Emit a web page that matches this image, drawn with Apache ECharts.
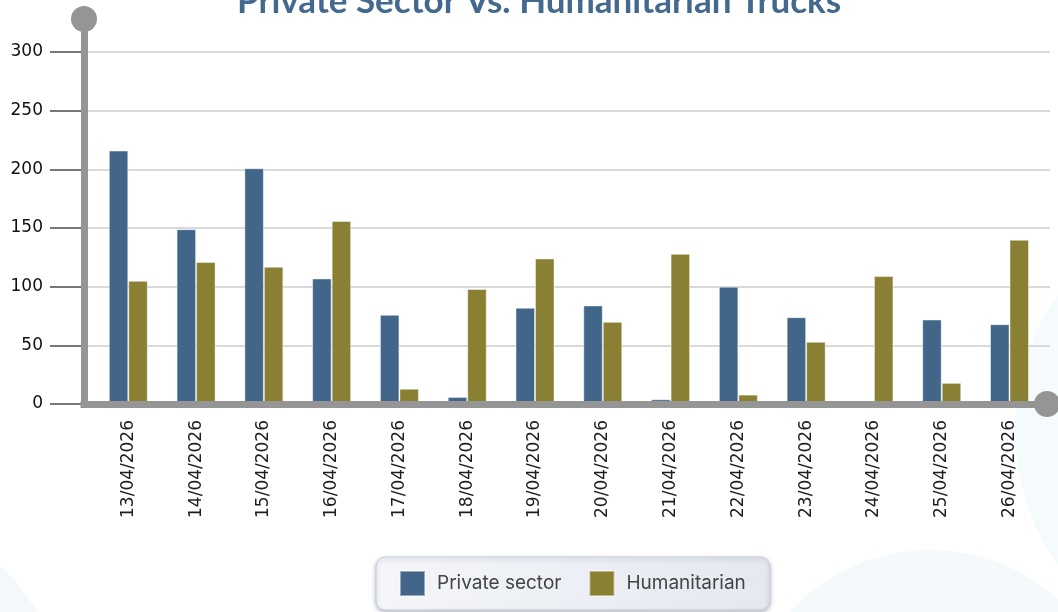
<!DOCTYPE html>
<html>
<head>
<meta charset="utf-8">
<title>Private Sector Vs. Humanitarian Trucks</title>
<script src="https://cdn.jsdelivr.net/npm/echarts@6/dist/echarts.min.js"></script>
<style>
  html, body { margin: 0; padding: 0; background: #ffffff; }
  #chart { width: 1058px; height: 612px; }
</style>
</head>
<body>
<div id="chart"></div>
<script>
// Daily truck counts entering, by type
const categories = [
  '13/04/2026', '14/04/2026', '15/04/2026', '16/04/2026', '17/04/2026',
  '18/04/2026', '19/04/2026', '20/04/2026', '21/04/2026', '22/04/2026',
  '23/04/2026', '24/04/2026', '25/04/2026', '26/04/2026'
];
const privateSector = [216, 149, 201, 107, 76, 6, 82, 84, 4, 100, 74, 0, 72, 68];
const humanitarian  = [105, 121, 117, 156, 13, 98, 124, 70, 128, 8, 53, 109, 18, 140];

// Value axis range and tick step
const yMin = 0;
const yMax = 300;
const yStep = 50;

const seriesNames = ['Private sector', 'Humanitarian'];
const seriesColors = ['#416689', '#8a8033'];

const chart = echarts.init(document.getElementById('chart'), null, { renderer: 'canvas' });

const axisGray = '#959595';
const axisFont = '"DejaVu Sans", sans-serif';
const legendFont = 'Inter, "Noto Sans", sans-serif';

const option = {
  backgroundColor: '#ffffff',
  animation: false,
  title: {
    text: 'Private Sector Vs. Humanitarian Trucks',
    left: 232,
    top: -21,
    textStyle: {
      color: '#44698f',
      fontSize: 35,
      fontWeight: 'bold',
      fontFamily: 'Lato, "Open Sans", sans-serif'
    }
  },
  graphic: [
    { type: 'circle', z: -10, silent: true, shape: { cx: -120, cy: 700, r: 180 }, style: { fill: '#f3f8fc' } },
    { type: 'circle', z: -10, silent: true, shape: { cx: 930, cy: 740, r: 190 }, style: { fill: '#f4f9fc' } },
    { type: 'circle', z: -10, silent: true, shape: { cx: 1250, cy: 430, r: 235 }, style: { fill: '#f5fbfd' } }
  ],
  legend: {
    data: seriesNames,
    left: 376,
    top: 557,
    itemWidth: 25,
    itemHeight: 25,
    itemGap: 27,
    icon: 'rect',
    padding: [13, 24, 13, 23],
    borderRadius: 9,
    borderColor: '#c9cdd8',
    borderWidth: 1,
    backgroundColor: new echarts.graphic.LinearGradient(0, 0, 1, 1, [
      { offset: 0, color: '#f4f6f9' },
      { offset: 1, color: '#e4e8f0' }
    ]),
    shadowColor: 'rgba(60, 70, 100, 0.35)',
    shadowBlur: 4,
    shadowOffsetY: 2,
    textStyle: {
      color: '#444444',
      fontSize: 19,
      fontFamily: legendFont,
      padding: [0, 0, 0, 7]
    }
  },
  grid: [
    // gridlines and value labels
    { left: 88, right: 8, top: 52, bottom: 208 },
    // bars
    { left: 94.4, right: 14.6, top: 52, bottom: 208 },
    // axis frame with round end caps
    { left: 84, right: 11, top: 19, bottom: 208 }
  ],
  xAxis: [
    { gridIndex: 0, type: 'value', min: 0, max: 1, show: false },
    {
      gridIndex: 1,
      type: 'category',
      data: categories,
      axisLine: { show: false },
      axisTick: { show: false },
      axisLabel: {
        interval: 0,
        rotate: 90,
        margin: 16,
        color: '#1e1e1e',
        fontSize: 17,
        fontFamily: axisFont
      }
    },
    {
      gridIndex: 2,
      type: 'value',
      min: 0,
      max: 1,
      z: 5,
      axisLine: {
        show: true,
        symbol: ['none', 'circle'],
        symbolSize: [26, 26],
        lineStyle: { color: axisGray, width: 7, cap: 'square' }
      },
      axisTick: { show: false },
      axisLabel: { show: false },
      splitLine: { show: false }
    }
  ],
  yAxis: [
    {
      gridIndex: 0,
      type: 'value',
      min: yMin,
      max: yMax,
      interval: yStep,
      axisLine: { show: false },
      axisTick: { show: true, length: 38, lineStyle: { color: '#777777', width: 2 } },
      axisLabel: {
        margin: 45,
        color: '#111111',
        fontSize: 17,
        fontFamily: axisFont
      },
      splitLine: { show: true, lineStyle: { color: '#d9d9d9', width: 2 } }
    },
    { gridIndex: 1, type: 'value', min: yMin, max: yMax, show: false },
    {
      gridIndex: 2,
      type: 'value',
      min: 0,
      max: 1,
      z: 5,
      axisLine: {
        show: true,
        symbol: ['none', 'circle'],
        symbolSize: [26, 26],
        lineStyle: { color: axisGray, width: 7, cap: 'square' }
      },
      axisTick: { show: false },
      axisLabel: { show: false },
      splitLine: { show: false }
    }
  ],
  series: [
    {
      name: seriesNames[0],
      type: 'bar',
      xAxisIndex: 1,
      yAxisIndex: 1,
      data: privateSector,
      barWidth: 19.5,
      barGap: '0%',
      itemStyle: { color: seriesColors[0], borderColor: 'rgba(255,255,255,0.45)', borderWidth: 1 }
    },
    {
      name: seriesNames[1],
      type: 'bar',
      xAxisIndex: 1,
      yAxisIndex: 1,
      data: humanitarian,
      barWidth: 19.5,
      barGap: '0%',
      itemStyle: { color: seriesColors[1], borderColor: 'rgba(255,255,255,0.45)', borderWidth: 1 }
    }
  ]
};

chart.setOption(option);
</script>
</body>
</html>
